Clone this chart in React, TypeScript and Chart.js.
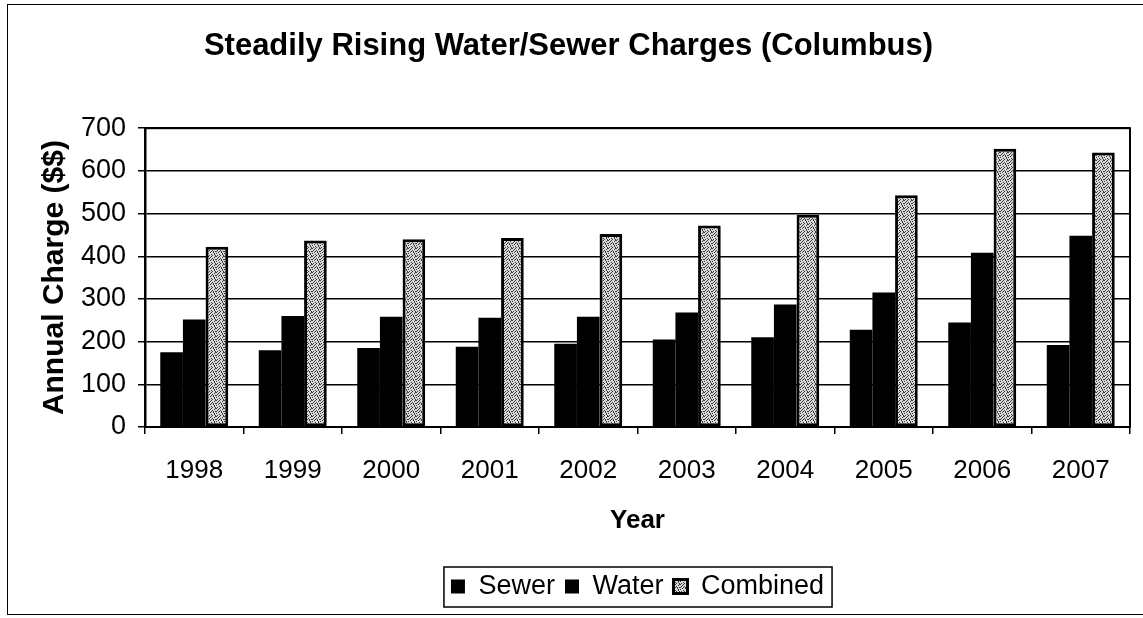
import React, { useEffect, useRef } from "react";
import { Chart, registerables } from "chart.js";

Chart.register(...registerables);

const years = ["1998", "1999", "2000", "2001", "2002", "2003", "2004", "2005", "2006", "2007"];
const sewer = [175, 180, 185, 188, 195, 205, 210, 228, 245, 192];
const water = [252, 260, 258, 256, 258, 268, 287, 315, 408, 448];
const combined = [422, 437, 440, 443, 452, 472, 497, 543, 652, 643];
const yTicks = [0, 100, 200, 300, 400, 500, 600, 700];

const FONT = "'Liberation Sans', Arial, Helvetica, sans-serif";

function makeSpeckle(): CanvasPattern | string {
  const c = document.createElement("canvas");
  c.width = 8;
  c.height = 8;
  const g = c.getContext("2d");
  if (!g) return "#b0b0b0";
  g.fillStyle = "#d8d8d8";
  g.fillRect(0, 0, 8, 8);
  g.fillStyle = "#3a3a3a";
  const dots = [
    [0, 0], [3, 0], [6, 1], [1, 2], [4, 2], [7, 3], [2, 4], [5, 4],
    [0, 5], [3, 6], [6, 6], [1, 7], [4, 7], [7, 0], [2, 1], [5, 3],
    [0, 3], [6, 5], [3, 3], [7, 7]
  ];
  dots.forEach(([x, y]) => g.fillRect(x, y, 1, 1));
  const p = g.createPattern(c, "repeat");
  return p || "#b0b0b0";
}

const frameAndLegendBox = {
  id: "frameAndLegendBox",
  afterDraw(chart: any) {
    const ctx = chart.ctx;
    const a = chart.chartArea;
    ctx.save();
    ctx.strokeStyle = "#000";
    ctx.lineWidth = 2;
    ctx.strokeRect(a.left, a.top, a.right - a.left, a.bottom - a.top);
    const lg = chart.legend;
    if (lg && lg.legendHitBoxes && lg.legendHitBoxes.length) {
      const hb = lg.legendHitBoxes;
      const l = Math.min(...hb.map((h: any) => h.left)) - 7;
      const r = Math.max(...hb.map((h: any) => h.left + h.width)) + 8;
      const t = Math.min(...hb.map((h: any) => h.top)) - 6;
      const b = Math.max(...hb.map((h: any) => h.top + h.height)) + 7;
      ctx.lineWidth = 1.5;
      ctx.strokeRect(l, t, r - l, b - t);
    }
    ctx.restore();
  },
};

export default function App() {
  const ref = useRef<HTMLCanvasElement>(null);
  useEffect(() => {
    if (!ref.current) return;
    const speckle = makeSpeckle();
    const chart = new Chart(ref.current, {
      type: "bar",
      data: {
        labels: years,
        datasets: [
          { label: "Sewer", data: sewer, backgroundColor: "#000", borderColor: "#000", borderWidth: 0 },
          { label: "Water", data: water, backgroundColor: "#000", borderColor: "#000", borderWidth: 0 },
          {
            label: "Combined",
            data: combined,
            backgroundColor: speckle as any,
            borderColor: "#000",
            borderWidth: 3,
            borderSkipped: false,
          },
        ],
      },
      options: {
        animation: false,
        responsive: false,
        devicePixelRatio: 1,
        layout: { padding: { top: 0, left: 7, right: 13, bottom: 8 } },
        datasets: { bar: { barPercentage: 1, categoryPercentage: 0.69 } },
        plugins: {
          title: {
            display: true,
            text: "Steadily Rising Water/Sewer Charges (Columbus)",
            color: "#000",
            font: { family: FONT, size: 31, weight: "bold" },
            padding: { top: 28, bottom: 63 },
          },
          legend: {
            display: true,
            position: "bottom",
            fullSize: false,
            labels: {
              color: "#000",
              font: { family: FONT, size: 27 },
              boxWidth: 14,
              boxHeight: 14,
              padding: 10,
            },
          },
          tooltip: { enabled: false },
        },
        scales: {
          x: {
            type: "category",
            offset: true,
            afterFit(scale: any) {
              scale.height = 136;
            },
            grid: {
              display: true,
              offset: true,
              drawOnChartArea: false,
              drawTicks: true,
              tickLength: 7,
              color: "#000",
              lineWidth: 1.5,
            },
            border: { display: true, color: "#000", width: 2 },
            ticks: { color: "#000", font: { family: FONT, size: 26 }, padding: 21, maxRotation: 0 },
            title: {
              display: true,
              text: "Year",
              color: "#000",
              font: { family: FONT, size: 26, weight: "bold" },
              padding: { top: 8, bottom: 27 },
            },
          },
          y: {
            min: 0,
            max: 700,
            afterBuildTicks(scale: any) {
              scale.ticks = yTicks.map((v) => ({ value: v }));
            },
            afterFit(scale: any) {
              scale.width = 138;
            },
            grid: {
              display: true,
              drawTicks: true,
              tickLength: 7,
              color: "#000",
              lineWidth: 1.5,
            },
            border: { display: true, color: "#000", width: 2.5 },
            ticks: { color: "#000", font: { family: FONT, size: 27 }, padding: 12 },
            title: {
              display: true,
              text: "Annual Charge ($$)",
              color: "#000",
              font: { family: FONT, size: 30, weight: "bold" },
              padding: { top: 30, bottom: 0 },
            },
          },
        },
      },
      plugins: [frameAndLegendBox],
    });
    return () => chart.destroy();
  }, []);

  return (
    <div style={{ position: "absolute", left: 0, top: 0, width: 1143, height: 618, background: "#fff" }}>
      <div
        style={{
          position: "absolute",
          left: 7,
          top: 4,
          width: 1150,
          height: 611,
          border: "1.5px solid #000",
          boxSizing: "border-box",
          pointerEvents: "none",
        }}
      />
      <canvas ref={ref} width={1143} height={618} style={{ position: "absolute", left: 0, top: 0 }} />
    </div>
  );
}
